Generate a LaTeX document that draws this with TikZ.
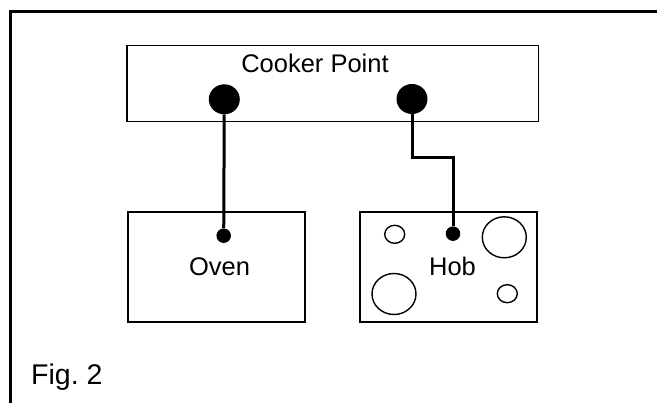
\documentclass[tikz,border=0pt]{standalone}
\usepackage{fontspec}
\setmainfont{Liberation Sans}
\usetikzlibrary{shapes.geometric}

\tikzset{
    unitbox/.style={draw,line width=1.5pt,inner sep=0pt},
    blob/.style={ellipse,fill=black,inner sep=0pt},
    ring/.style={ellipse,draw,line width=1.4pt,inner sep=0pt},
    wire/.style={line width=3pt},
    frameline/.style={line width=2.4pt},
    caption/.style={font=\fontsize{25.5}{30}\selectfont,inner sep=0pt,anchor=base}
}

\begin{document}
\frenchspacing
\begin{tikzpicture}[x=1pt,y=-1pt]
    \useasboundingbox (0,0) rectangle (657,403);
    \coordinate (F1) at (657,11.5);
    \coordinate (F2) at (10.5,11.5);
    \coordinate (F3) at (10.5,403);
    %
    \draw[frameline] (F1) -- (F2) -- (F3);
    %
    \node[unitbox,minimum width=411.5pt,minimum height=76pt] (point) at (332.5,83.5) {};
    \node[unitbox,minimum width=177pt,minimum height=110pt] (oven) at (216.5,267) {};
    \node[unitbox,minimum width=177pt,minimum height=110pt] (hob) at (448.5,267) {};
    %
    \node[caption] (pointtext) at (315,73) {Cooker Point};
    \node[caption] (oventext) at (219.5,276) {Oven};
    \node[caption] (hobtext) at (452.5,276) {Hob};
    \node[caption,font=\fontsize{28.5}{34}\selectfont,anchor=base west] (figtext) at (31,385) {Fig. 2};
    %
    \node[blob,minimum width=31pt,minimum height=30pt] (P1) at (224.3,99.3) {};
    \node[blob,minimum width=31pt,minimum height=30pt] (P2) at (412,99) {};
    \node[blob,minimum width=14.5pt,minimum height=14.5pt] (D1) at (223.7,235.7) {};
    \node[blob,minimum width=14.5pt,minimum height=14.5pt] (D2) at (453,233.7) {};
    \coordinate (B1) at (412,157.5);
    \coordinate (B2) at (453,157.5);
    %
    \draw[wire] (P1) -- (D1);
    \draw[wire] (P2) -- (B1) -- (B2) -- (D2);
    %
    \node[ring,minimum width=20pt,minimum height=18pt] (R1) at (394.7,234.3) {};
    \node[ring,minimum width=44pt,minimum height=41pt] (R2) at (504.3,237.3) {};
    \node[ring,minimum width=44pt,minimum height=41pt] (R3) at (394,294) {};
    \node[ring,minimum width=20pt,minimum height=18pt] (R4) at (507.3,293.7) {};
    %
\end{tikzpicture}
\end{document}
